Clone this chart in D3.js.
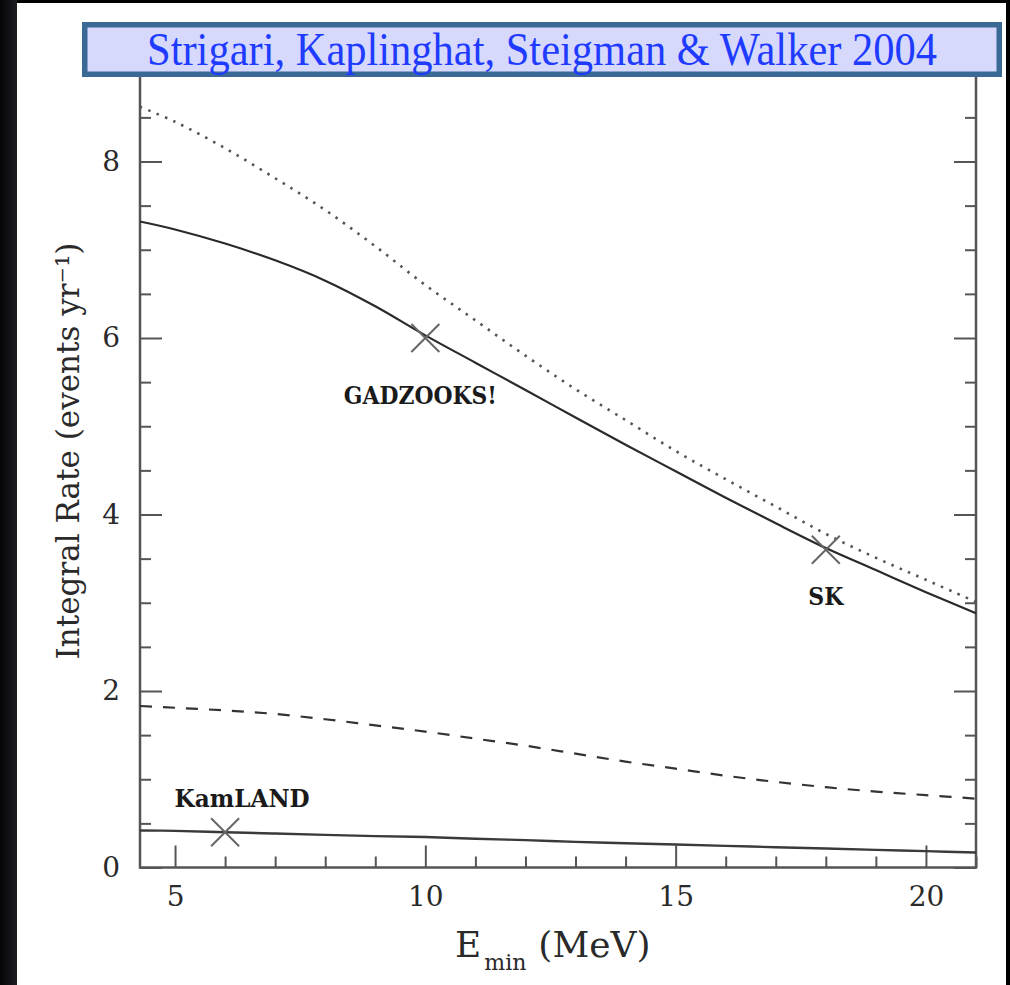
<!DOCTYPE html>
<html>
<head>
<meta charset="utf-8">
<script src="https://cdn.jsdelivr.net/npm/d3@7"></script>
<style>
  html, body { margin: 0; padding: 0; background: #000; }
  svg { display: block; }
</style>
</head>
<body>
<svg id="chart" width="1010" height="985"></svg>
<script>
// Integral event rate above threshold energy E_min, per detector model
const eMin = [4.3, 5, 6, 7, 8, 9, 10, 11, 12, 13, 14, 15, 16, 17, 18, 19, 20, 21];
const rateSolid  = [7.32, 7.23, 7.07, 6.88, 6.65, 6.36, 6.03, 5.72, 5.41, 5.10, 4.79, 4.49, 4.19, 3.90, 3.62, 3.37, 3.12, 2.88];
const rateDotted = [8.62, 8.45, 8.15, 7.81, 7.45, 7.04, 6.60, 6.20, 5.80, 5.42, 5.07, 4.72, 4.40, 4.09, 3.78, 3.51, 3.26, 3.01];
const rateDashed = [1.83, 1.81, 1.78, 1.74, 1.68, 1.61, 1.54, 1.46, 1.38, 1.29, 1.20, 1.12, 1.04, 0.97, 0.91, 0.86, 0.82, 0.78];
const rateKamLAND = [0.42, 0.415, 0.40, 0.385, 0.37, 0.355, 0.345, 0.325, 0.31, 0.29, 0.275, 0.26, 0.245, 0.23, 0.215, 0.20, 0.185, 0.17];

// Detector thresholds marked on the curves
const detectorNames = ["GADZOOKS!", "SK", "KamLAND"];
const detectorE = [10, 18, 6];
const detectorRate = [6.0, 3.6, 0.4];

// Axis ticks
const xMajorTicks = [5, 10, 15, 20];
const xMinorTicks = d3.range(5, 22, 1);
const yMajorTicks = [0, 2, 4, 6, 8];
const yMinorTicks = d3.range(0, 9.01, 0.5);

const titleText = "Strigari, Kaplinghat, Steigman & Walker 2004";

const svg = d3.select("#chart");

// slide backdrop
const defs = svg.append("defs");
const grad = defs.append("linearGradient").attr("id", "edge").attr("x1", 0).attr("x2", 1);
grad.append("stop").attr("offset", 0).attr("stop-color", "#050507");
grad.append("stop").attr("offset", 1).attr("stop-color", "#1c1c24");
svg.append("rect").attr("width", 1010).attr("height", 985).attr("fill", "#000");
svg.append("rect").attr("x", 0).attr("y", 0).attr("width", 17).attr("height", 985).attr("fill", "url(#edge)");
svg.append("rect").attr("x", 17).attr("y", 3).attr("width", 989).attr("height", 982).attr("fill", "#fff");

const x = d3.scaleLinear().domain([4.3, 21]).range([140, 976]);
const y = d3.scaleLinear().domain([0, 9]).range([867.5, 73.25]);

const axisColor = "#555";
const serif = "'DejaVu Serif', serif";

// tick marks (inward) on bottom, left and right
function styleAxis(g) {
  g.select(".domain").remove();
  g.selectAll(".tick line").attr("stroke", axisColor).attr("stroke-width", 2);
  g.selectAll(".tick text").attr("fill", "#2a2a2a").attr("font-family", serif).attr("font-size", 28);
}

svg.append("g").attr("transform", `translate(0,${y(0)})`)
  .call(d3.axisBottom(x).tickValues(xMinorTicks.filter(v => !xMajorTicks.includes(v))).tickSize(-11).tickFormat(""))
  .call(styleAxis);
svg.append("g").attr("transform", `translate(0,${y(0)})`)
  .call(d3.axisBottom(x).tickValues(xMajorTicks).tickSize(-22).tickPadding(19).tickFormat(d3.format("d")))
  .call(styleAxis);

svg.append("g").attr("transform", `translate(${x.range()[0]},0)`)
  .call(d3.axisLeft(y).tickValues(yMinorTicks.filter(v => !yMajorTicks.includes(v))).tickSize(-11).tickFormat(""))
  .call(styleAxis);
svg.append("g").attr("transform", `translate(${x.range()[0]},0)`)
  .call(d3.axisLeft(y).tickValues(yMajorTicks).tickSize(-22).tickPadding(20).tickFormat(d3.format("d")))
  .call(styleAxis);

svg.append("g").attr("transform", `translate(${x.range()[1]},0)`)
  .call(d3.axisRight(y).tickValues(yMinorTicks.filter(v => !yMajorTicks.includes(v))).tickSize(-11).tickFormat(""))
  .call(styleAxis);
svg.append("g").attr("transform", `translate(${x.range()[1]},0)`)
  .call(d3.axisRight(y).tickValues(yMajorTicks).tickSize(-22).tickFormat(""))
  .call(styleAxis);

// frame: left, bottom, right
svg.append("path")
  .attr("d", `M${x.range()[0]},${y.range()[1]}V${y(0)}H${x.range()[1]}V${y.range()[1]}`)
  .attr("fill", "none").attr("stroke", axisColor).attr("stroke-width", 2.5);

// curves
const line = d3.line().x(d => x(d[0])).y(d => y(d[1])).curve(d3.curveCatmullRom.alpha(0.5));
const series = [
  { values: rateDotted, stroke: "#555", width: 2.6, dash: "2.5,6.5" },
  { values: rateSolid, stroke: "#2a2a2a", width: 2.2, dash: null },
  { values: rateDashed, stroke: "#333", width: 2.2, dash: "12,11" },
  { values: rateKamLAND, stroke: "#3a3a3a", width: 2.4, dash: null }
];
svg.append("g").selectAll("path").data(series).join("path")
  .attr("d", s => line(eMin.map((e, i) => [e, s.values[i]])))
  .attr("fill", "none")
  .attr("stroke", s => s.stroke)
  .attr("stroke-width", s => s.width)
  .attr("stroke-dasharray", s => s.dash);

// threshold markers
const markerHalf = 14;
const markers = svg.append("g").selectAll("g").data(detectorNames).join("g")
  .attr("transform", (d, i) => `translate(${x(detectorE[i])},${y(detectorRate[i])})`);
markers.append("path")
  .attr("d", `M${-markerHalf},${-markerHalf}L${markerHalf},${markerHalf}M${-markerHalf},${markerHalf}L${markerHalf},${-markerHalf}`)
  .attr("stroke", "#666").attr("stroke-width", 2).attr("fill", "none");

// detector labels placed relative to their marker
const labelOffset = { "GADZOOKS!": [-5, 66], "SK": [0, 55], "KamLAND": [17, -25] };
const labelWidth = { "GADZOOKS!": 153, "SK": 35, "KamLAND": 135 };
markers.append("text")
  .attr("x", d => labelOffset[d][0])
  .attr("y", d => labelOffset[d][1])
  .attr("text-anchor", "middle")
  .attr("font-family", serif)
  .attr("font-weight", "bold")
  .attr("font-size", 25)
  .attr("fill", "#1a1a1a")
  .attr("textLength", d => labelWidth[d])
  .attr("lengthAdjust", "spacingAndGlyphs")
  .text(d => d);

// axis titles
svg.append("text")
  .attr("transform", "translate(79,451) rotate(-90)")
  .attr("text-anchor", "middle")
  .attr("font-family", serif)
  .attr("font-size", 31)
  .attr("fill", "#2a2a2a")
  .text("Integral Rate (events yr⁻¹)");

const xt = svg.append("text")
  .attr("x", 455).attr("y", 957)
  .attr("font-family", serif)
  .attr("font-size", 36)
  .attr("fill", "#2a2a2a");
xt.append("tspan").text("E");
xt.append("tspan").attr("font-size", 22).attr("dy", 13).attr("dx", 3).text("min");
xt.append("tspan").attr("dy", -13).attr("dx", 12).text("(MeV)");

// citation banner
svg.append("rect")
  .attr("x", 84.75).attr("y", 24.75).attr("width", 914.5).attr("height", 49.5)
  .attr("fill", "#d6d8fc").attr("stroke", "#3b6996").attr("stroke-width", 5.5);
svg.append("text")
  .attr("x", 542).attr("y", 65)
  .attr("text-anchor", "middle")
  .attr("font-family", "'Liberation Serif', 'Times New Roman', serif")
  .attr("font-size", 46)
  .attr("fill", "#1e3bff")
  .attr("textLength", 790)
  .attr("lengthAdjust", "spacingAndGlyphs")
  .text(titleText);
</script>
</body>
</html>
